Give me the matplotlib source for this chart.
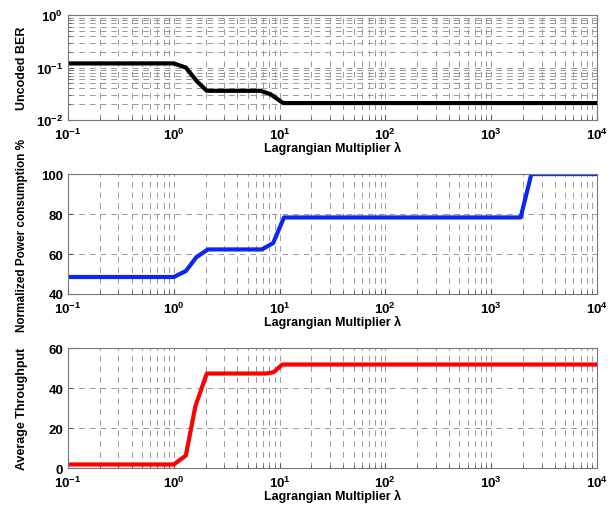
import math
import matplotlib
matplotlib.use("Agg")
import matplotlib.pyplot as plt
from matplotlib.ticker import FuncFormatter, LogLocator, NullFormatter

plt.rcParams['font.family'] = ['Liberation Sans', 'DejaVu Sans']
plt.rcParams['font.weight'] = 'bold'
plt.rcParams['mathtext.default'] = 'bf'
plt.rcParams['mathtext.fontset'] = 'custom'
plt.rcParams['mathtext.bf'] = 'Liberation Sans:bold'
plt.rcParams['mathtext.rm'] = 'Liberation Sans'

# data
lam_ber = [0.1, 1.0, 1.3, 1.65, 2.05, 6.6, 8.2, 10.8, 1e4]
ber = [0.12, 0.12, 0.10, 0.055, 0.036, 0.036, 0.031, 0.021, 0.021]

lam_pow = [0.1, 1.0, 1.3, 1.64, 2.1, 6.8, 8.7, 11.0, 1900, 2400, 1e4]
power = [48.5, 48.5, 51.5, 58.5, 62.3, 62.3, 65.5, 78.3, 78.3, 100, 100]

lam_thr = [0.1, 1.0, 1.3, 1.6, 2.05, 7.5, 8.8, 10.6, 1e4]
thr = [1.8, 1.8, 6.3, 31, 47.3, 47.3, 48, 51.8, 51.8]

fig = plt.figure(figsize=(6.15, 5.06), dpi=100)
left, width = 0.1106, 0.860
ax1 = fig.add_axes([left, 0.761, width, 0.207])
ax2 = fig.add_axes([left, 0.417, width, 0.237])
ax3 = fig.add_axes([left, 0.073, width, 0.237])

dash = (0, (6, 5))
gcol = '#9a9a9a'


def logfmt(v, pos):
    e = int(round(math.log10(v)))
    return r'$\mathbf{10^{%d}}$' % e


def style(ax):
    ax.set_xscale('log')
    ax.set_xlim(0.1, 1e4)
    ax.xaxis.set_major_locator(LogLocator(base=10, numticks=10))
    ax.xaxis.set_minor_locator(LogLocator(base=10, subs=range(2, 10), numticks=20))
    ax.xaxis.set_major_formatter(FuncFormatter(logfmt))
    ax.xaxis.set_minor_formatter(NullFormatter())
    ax.grid(True, which='both', axis='x', linestyle=dash, color=gcol, lw=0.7)
    ax.tick_params(which='both', direction='in', labelsize=9.5, colors='#555555',
                   labelcolor='black')
    ax.tick_params(axis='x', pad=5)
    for s in ax.spines.values():
        s.set_color('#777777')
        s.set_linewidth(0.8)
    ax.set_xlabel('Lagrangian Multiplier λ', fontsize=9, fontweight='bold', labelpad=-1)


style(ax1)
ax1.plot(lam_ber, ber, color='black', lw=3)
ax1.set_yscale('log')
ax1.set_ylim(1e-2, 1)
ax1.yaxis.set_major_locator(LogLocator(base=10, numticks=5))
ax1.yaxis.set_minor_locator(LogLocator(base=10, subs=range(2, 10), numticks=10))
ax1.yaxis.set_major_formatter(FuncFormatter(logfmt))
ax1.yaxis.set_minor_formatter(NullFormatter())
ax1.grid(True, which='both', axis='y', linestyle=dash, color=gcol, lw=0.7)
ax1.set_ylabel('Uncoded BER', fontsize=9, fontweight='bold')

style(ax2)
ax2.plot(lam_pow, power, color='#0a28f5', lw=3)
ax2.set_ylim(40, 100)
ax2.set_yticks([40, 60, 80, 100])
ax2.grid(True, which='major', axis='y', linestyle=dash, color=gcol, lw=0.7)
ax2.set_ylabel('Normalized Power consumption %', fontsize=8.5, fontweight='bold')

style(ax3)
ax3.plot(lam_thr, thr, color='#ff0000', lw=3)
ax3.set_ylim(0, 60)
ax3.set_yticks([0, 20, 40, 60])
ax3.grid(True, which='major', axis='y', linestyle=dash, color=gcol, lw=0.7)
ax3.set_ylabel('Average Throughput', fontsize=9, fontweight='bold')

for ax in (ax1, ax2, ax3):
    ax.yaxis.set_label_coords(-0.075, 0.5)

fig.savefig('out.png', dpi=100)
